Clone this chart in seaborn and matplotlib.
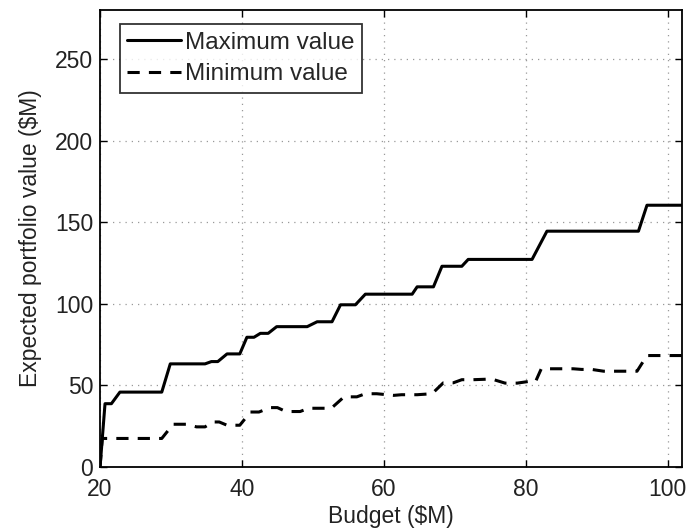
import matplotlib
matplotlib.use("Agg")
import matplotlib.pyplot as plt
import seaborn as sns
import pandas as pd

# Maximum value series (breakpoints)
max_budget = [20, 20.7, 21.6, 22.8, 28.7, 29.9, 34.8, 35.7, 36.6, 37.9, 39.7, 40.7, 41.7,
              42.6, 43.7, 44.9, 49.2, 50.6, 52.7, 53.9, 56.0, 57.4, 64.0, 64.7, 67.0,
              68.2, 71.0, 71.9, 80.9, 83.0, 95.9, 97.1, 102]
max_value = [0, 38.8, 38.8, 45.9, 45.9, 63.2, 63.2, 64.6, 64.6, 69.3, 69.3, 79.5, 79.5,
             81.9, 81.9, 86.0, 86.0, 89.0, 89.0, 99.4, 99.4, 105.9, 105.9, 110.4, 110.4,
             123.0, 123.0, 127.2, 127.2, 144.5, 144.5, 160.4, 160.4]

# Minimum value series
min_budget = [20, 20.3, 28.7, 30.3, 32.2, 33.6, 34.8, 35.9, 36.8, 37.9, 39.7, 41.2, 42.4,
              44.0, 45.0, 46.2, 48.2, 49.4, 52.6, 54.4, 56.2, 57.4, 59.0, 61.4, 62.5,
              64.7, 66.8, 68.4, 69.8, 71.0, 72.6, 74.5, 75.3, 77.1, 78.8, 80.4, 81.4,
              82.2, 83.7, 86.7, 87.9, 89.3, 91.0, 95.7, 97.1, 102]
min_value = [0, 17.5, 17.5, 26.2, 26.2, 24.6, 24.6, 27.6, 27.6, 25.6, 25.6, 33.7, 33.7,
             36.4, 36.4, 34.0, 34.0, 36.0, 36.0, 43.0, 43.0, 44.9, 44.9, 43.9, 44.3,
             44.3, 44.9, 51.6, 51.6, 53.5, 53.5, 53.8, 53.8, 51.4, 51.4, 52.4, 52.4,
             60.2, 60.2, 60.2, 59.8, 59.8, 58.7, 58.7, 68.3, 68.3]

x_ticks = [20, 40, 60, 80, 100]
y_ticks = [0, 50, 100, 150, 200, 250]

sns.set_theme(style="white")
plt.rcParams['font.family'] = ['Liberation Sans', 'DejaVu Sans']

FS = 16.5
fig = plt.figure(figsize=(6.9, 5.28), dpi=100)
ax = fig.add_axes([0.145, 0.1155, 0.843, 0.8655])

df_max = pd.DataFrame({"budget": max_budget, "value": max_value})
df_min = pd.DataFrame({"budget": min_budget, "value": min_value})

sns.lineplot(data=df_max, x="budget", y="value", ax=ax, color="black", lw=2.2,
             sort=False, estimator=None, label="Maximum value")
sns.lineplot(data=df_min, x="budget", y="value", ax=ax, color="black", lw=2.2,
             sort=False, estimator=None, label="Minimum value")
ax.lines[1].set_dashes([4, 3])

ax.set_xlim(20, 102)
ax.set_ylim(0, 280)
ax.set_xticks(x_ticks)
ax.set_yticks(y_ticks)
ax.grid(True, linestyle=(0, (1, 4)), color="#999999", lw=0.9)
for s in ax.spines.values():
    s.set_color("black")
    s.set_linewidth(1.3)
ax.tick_params(direction="in", length=5, width=1, colors="black", labelsize=FS,
               top=True, right=True, bottom=True, left=True)
ax.tick_params(axis="x", pad=8)
ax.tick_params(axis="y", pad=5)
for lab in ax.get_xticklabels() + ax.get_yticklabels():
    lab.set_color("#222222")

ax.set_xlabel("Budget (\\$M)", fontsize=FS, color="#222222", labelpad=3)
ax.set_ylabel("Expected portfolio value (\\$M)", fontsize=FS, color="#222222", labelpad=9)

leg = ax.legend(loc="upper left", bbox_to_anchor=(0.034, 0.969), fontsize=17.5, frameon=True,
                fancybox=False, edgecolor="black", handlelength=2.2, handletextpad=0.2,
                borderpad=0.3, labelspacing=0.4, borderaxespad=0)
leg.get_frame().set_linewidth(1.3)
leg.get_lines()[1].set_dashes([4, 3])

fig.savefig("out.png", dpi=100)
